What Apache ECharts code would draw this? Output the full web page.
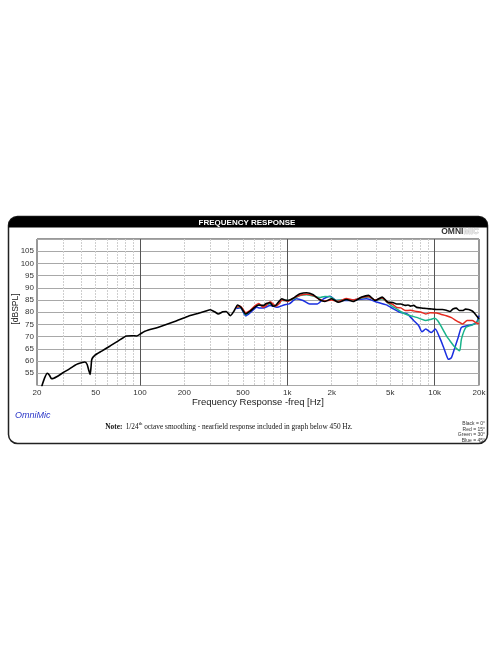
<!DOCTYPE html>
<html>
<head>
<meta charset="utf-8">
<script src="https://cdn.jsdelivr.net/npm/echarts@6/dist/echarts.min.js"></script>
<style>
html,body{margin:0;padding:0;background:#fff;}
#chart{width:496px;height:664px;}
</style>
</head>
<body>
<div id="chart"></div>
<script>
// ---- Data (frequency in Hz, level in dB SPL) ----
const xTickLabels = [20, 50, 100, 200, 500, 1000, 2000, 5000, 10000, 20000];
const xMinorGrid = [30, 40, 50, 60, 70, 80, 90, 200, 300, 400, 500, 600, 700, 800, 900,
  2000, 3000, 4000, 5000, 6000, 7000, 8000, 9000];
const xMajorGrid = [100, 1000, 10000];
const yTickLabels = [55, 60, 65, 70, 75, 80, 85, 90, 95, 100, 105];

const freqBlack = [21.5,22.5,23.5,24.3,25.1,26,27.2,30,33.4,36,38,42.3,43.8,45,45.9,46.6,47.1,49.5,55,62.7,71.3,81,88,95,100,108,132,172,211,247,280,300,321,340,365,385,411,435,460,485,522,560,600,640,688,720,764,800,834,880,918,960,1010,1100,1160,1220,1350,1500,1650,1800,2000,2220,2520,2800,3200,3560,3950,4400,4820,5200,5520,5900,6320,6600,6860,7200,7540,8260,9300,10300,11300,12000,12700,13300,14000,14700,15500,16200,17000,18000,18600,19300,20000];
const splBlack = [49.5,53,55,54.2,52.8,53,53.6,55.2,56.9,58.2,58.9,59.6,58.6,56,54.5,58,60.7,62.4,64.1,66.2,68.3,70.3,70.4,70.3,71,72.2,73.8,76.2,78.3,79.5,80.5,81,80.2,79.3,80.2,80.3,78.6,80.5,83,82,79.3,80.5,82,83,82.8,83.6,83.9,82.5,82.8,84.5,85.5,85,84.8,85.8,86.8,87.6,88,87.2,85.2,84.4,85.5,84.1,85.2,84.4,86.2,86.9,84.8,86.2,84.1,84,83.4,83.4,82.8,83,82.5,82.8,82,81.7,81.4,81.1,81.1,80.8,80.3,81.3,81.7,80.7,80.7,81.3,81.1,80.5,79.7,78.5,77.2];

const freqRed = [450,480,522,560,600,640,688,720,764,834,880,918,1010,1100,1220,1350,1500,1650,1800,2000,2220,2520,2800,3200,3560,3950,4400,4820,5200,5520,5900,6320,6860,7540,8100,8700,9300,10300,11000,12000,13000,14000,14800,15500,16600,18000,19000,20000];
const splRed = [82,82.5,79.8,80.8,82.5,83.6,82,82.8,84.3,82.5,83.5,85,84.5,85.8,87,87.4,86.8,85.4,84.6,85,84.5,85.6,85,86,86.4,85,85.8,84,83.2,82,81.8,80.7,80.8,80.3,80,79.3,79.8,79.7,79.2,78.6,77.8,76.6,75.8,75.2,76.6,76.6,75.8,75.2];

const freqGreen = [450,480,522,560,600,640,688,764,834,918,1010,1100,1220,1350,1500,1650,1800,1950,2150,2520,2800,3200,3560,3950,4400,4820,5200,5520,5900,6320,6860,7540,8100,8700,9300,10000,10500,11000,12000,12800,13500,14300,14800,15200,16300,18000,19000,20000];
const splGreen = [82,82.2,79,80.5,82.2,83,82.5,83.5,82.6,84.8,84.8,85.5,86.8,87.2,86.6,86,86.5,86.4,84.8,85.2,84.8,85.8,86.2,85,85.5,83.8,82.3,81.4,80.2,79.3,78.6,77.9,77.2,76.6,77,77.5,76.5,74.5,70.4,68,66.2,64.8,64.2,69,73.8,74.8,75.5,77.2];

const freqBlue = [450,480,522,560,600,622,650,688,764,850,950,1030,1150,1280,1420,1600,1760,1950,2150,2520,2950,3450,4080,4700,5250,5800,6500,7200,7800,8200,8700,9500,10100,10800,11400,12000,12400,13000,13700,14500,15200,16600,18600,19500,20000];
const splBlue = [81.5,81.8,78.5,79.8,81.5,82,81.7,81.7,82.8,82,83,83.4,85.5,84.8,83.4,83.4,85.5,86.6,84.8,84.8,85.2,85.5,84.1,83,81.4,80,79.3,76.6,74.5,72,73.1,71.7,73.1,69.7,66.2,62.5,60.7,61.4,65.5,70,73.8,74.5,75.2,76.5,78.6];

// ---- Build chart ----
const lg = v => Math.log10(v);
const toXY = (fs, ys) => fs.map((f, i) => [lg(f), ys[i]]);
const fmtHz = v => { const f = Math.round(Math.pow(10, v)); return f >= 1000 ? (f / 1000) + 'k' : String(f); };

const chart = echarts.init(document.getElementById('chart'), null, {renderer: 'canvas'});
const FONT = 'Liberation Sans, Arial, sans-serif';

const xBase = {
  type: 'value', min: lg(20), max: lg(20000), gridIndex: 0,
  axisLine: {show: false}
};

const mkSeries = (name, fs, ys, color, w, z) => ({
  name, type: 'line', data: toXY(fs, ys), showSymbol: false, symbol: 'none',
  smooth: 0.2, lineStyle: {color, width: w}, itemStyle: {color}, z, clip: true
});

chart.setOption({
  animation: false,
  backgroundColor: '#fff',
  grid: {left: 37, right: 17, top: 239, bottom: 278.5, show: true, borderColor: '#333', borderWidth: 1,
    backgroundColor: 'transparent', containLabel: false, outerBoundsMode: 'none'},
  xAxis: [
    Object.assign({}, xBase, {
      position: 'bottom',
      name: 'Frequency Response -freq [Hz]', nameLocation: 'middle', nameGap: 10,
      nameTextStyle: {fontFamily: FONT, fontSize: 9.5, color: '#222', verticalAlign: 'top'},
      axisTick: {show: false, customValues: xMinorGrid.map(lg)},
      axisLabel: {customValues: xTickLabels.map(lg), formatter: fmtHz, fontFamily: FONT, fontSize: 8, color: '#333', margin: 3, showMinLabel: true, showMaxLabel: true, hideOverlap: false},
      splitLine: {show: true, lineStyle: {color: '#cfcfcf', width: 1, type: [2, 1]}}
    }),
    Object.assign({}, xBase, {
      position: 'top',
      axisTick: {show: false, customValues: xMajorGrid.map(lg)},
      axisLabel: {show: false},
      splitLine: {show: true, lineStyle: {color: '#555', width: 1}}
    })
  ],
  yAxis: {
    type: 'value', min: 50, max: 110, interval: 5,
    axisLine: {show: false}, axisTick: {show: false},
    axisLabel: {fontFamily: FONT, fontSize: 8, color: '#333', margin: 3,
      formatter: v => yTickLabels.indexOf(v) >= 0 ? String(v) : ''},
    splitLine: {show: true, lineStyle: {color: '#a8a8a8', width: 1}}
  },
  series: [
    mkSeries('Blue = 45°', freqBlue, splBlue, '#1a2fe0', 1.5, 3),
    mkSeries('Green = 30°', freqGreen, splGreen, '#19b38a', 1.5, 4),
    mkSeries('Red = 15°', freqRed, splRed, '#e62a20', 1.5, 5),
    mkSeries('Black = 0°', freqBlack, splBlack, '#000000', 1.6, 6)
  ],
  graphic: [
    {type: 'rect', z: -10, silent: true, shape: {x: 8.5, y: 216.5, width: 479, height: 227, r: 9},
      style: {fill: '#fff', stroke: '#222', lineWidth: 1.5}},
    {type: 'rect', z: 100, silent: true, shape: {x: 8.5, y: 216.5, width: 479, height: 11, r: [9, 9, 0, 0]},
      style: {fill: '#000'}},
    {type: 'text', z: 101, silent: true, x: 247, y: 222.5,
      style: {text: 'FREQUENCY RESPONSE', fill: '#fff', font: 'bold 8px ' + FONT, align: 'center', verticalAlign: 'middle'}},
    {type: 'text', z: 101, silent: true, x: 479, y: 231.5,
      style: {text: '{a|OMNI}{b|MIC}', align: 'right', verticalAlign: 'middle',
        rich: {a: {font: 'bold 8.5px ' + FONT, fill: '#333'}, b: {font: 'bold 8.5px ' + FONT, fill: '#e4e4e4', stroke: '#aaa', lineWidth: 0.4}}}},
    {type: 'text', z: 101, silent: true, x: 15.5, y: 309, rotation: Math.PI / 2,
      style: {text: '[dBSPL]', fill: '#222', font: '8.5px ' + FONT, align: 'center', verticalAlign: 'middle'}},
    {type: 'text', z: 101, silent: true, x: 15, y: 415,
      style: {text: 'OmniMic', fill: '#2a36c8', font: 'italic 9px ' + FONT, align: 'left', verticalAlign: 'middle'}},
    {type: 'text', z: 101, silent: true, x: 229, y: 427.5,
      style: {text: '{n|Note:} {t|1/24}{s|th}{t| octave smoothing - nearfield response included in graph below 450 Hz.}',
        align: 'center', verticalAlign: 'middle',
        rich: {n: {font: 'bold 7.3px Liberation Serif, serif', fill: '#111'},
               t: {font: '7.3px Liberation Serif, serif', fill: '#111'},
               s: {font: '4.8px Liberation Serif, serif', fill: '#111', verticalAlign: 'top', padding: [0, 0, 4, 0]}}}},
    {type: 'text', z: 101, silent: true, x: 485, y: 424,
      style: {text: 'Black = 0°', fill: '#333', font: '5px ' + FONT, align: 'right', verticalAlign: 'middle'}},
    {type: 'text', z: 101, silent: true, x: 485, y: 429.5,
      style: {text: 'Red = 15°', fill: '#333', font: '5px ' + FONT, align: 'right', verticalAlign: 'middle'}},
    {type: 'text', z: 101, silent: true, x: 485, y: 435,
      style: {text: 'Green = 30°', fill: '#333', font: '5px ' + FONT, align: 'right', verticalAlign: 'middle'}},
    {type: 'text', z: 101, silent: true, x: 485, y: 440.5,
      style: {text: 'Blue = 45°', fill: '#333', font: '5px ' + FONT, align: 'right', verticalAlign: 'middle'}}
  ]
});
</script>
</body>
</html>
